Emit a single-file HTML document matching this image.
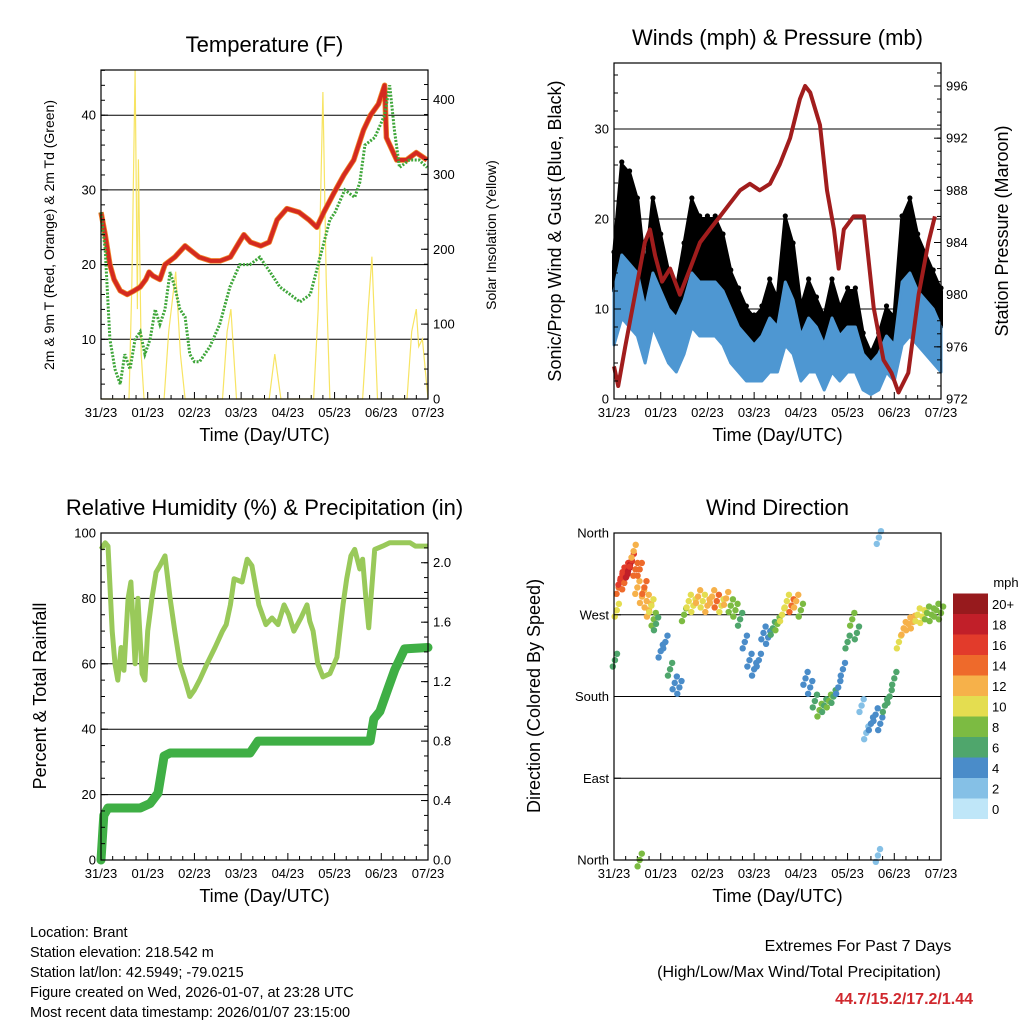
<!DOCTYPE html>
<html><head><meta charset="utf-8"><style>
body{margin:0;background:#fff;}
svg{display:block;font-family:"Liberation Sans",sans-serif;}
</style></head><body>
<svg id="s" width="1024" height="1024" viewBox="0 0 1024 1024"></svg>
<script>
// ---------- DATA ----------
const dayLabels=["31/23","01/23","02/23","03/23","04/23","05/23","06/23","07/23"];
// Temperature (F)
const tempT=[0,0.09,0.19,0.28,0.41,0.56,0.71,0.84,0.96,1.03,1.11,1.26,1.37,1.58,1.8,2.0,2.1,2.35,2.55,2.77,2.96,3.06,3.2,3.42,3.6,3.77,3.98,4.24,4.45,4.62,4.77,4.98,5.2,5.41,5.62,5.77,5.94,6.07,6.11,6.33,6.54,6.75,6.98];
const tempV=[27,24,20,18,16.5,16,16.5,17,18,19,18.5,18,20,21,22.5,21.5,21,20.5,20.5,21,23,24,23,22.5,23,26,27.5,27,26,25,27,29.5,32,34,38,40,41.5,44,37,34,34,35,34];
const tdT=[0,0.09,0.19,0.3,0.41,0.51,0.62,0.73,0.84,0.94,1.05,1.16,1.26,1.37,1.48,1.58,1.69,1.8,1.9,2.0,2.11,2.33,2.54,2.76,2.97,3.19,3.4,3.62,3.83,4.05,4.26,4.48,4.69,4.9,5.01,5.22,5.43,5.54,5.65,5.86,6.07,6.18,6.28,6.39,6.6,6.81,6.98];
const tdV=[27,22,10,6,4,8,6,10,11,8,10,14,12,14,19,17,14,13,8,7,7,9,12,17,20,20,21,19,17,16,15,16,21,26,27,30,29,31,36,37,40,44,38,33,34,34,33];
const solarT=[0,0.6,0.66,0.73,0.78,0.8,0.86,0.92,1.35,1.45,1.6,1.7,1.8,2.6,2.7,2.78,2.9,3.6,3.72,3.85,4.55,4.65,4.75,4.82,4.9,5.6,5.72,5.8,5.92,6.55,6.65,6.75,6.8,6.88,7.0];
const solarV=[0,0,150,440,120,320,60,0,0,90,170,60,0,0,90,120,0,0,60,0,0,120,410,160,0,0,120,190,0,0,90,120,70,80,0];
// Winds (mph) & pressure (mb)
const gust=[16,26,25,22,14,22,18,14,12,17,22,20,20,20,18,14,12,10,9,10,13,11,20,17,10,13,11,9,13,10,12,12,7,5,7,10,9,20,22,18,16,14,12];
const windHi=[12,16,15,14,10,14,12,10,9,11,14,13,13,13,12,10,8,7,6,7,9,8,13,11,7,9,8,6,9,7,8,8,5,4,5,7,6,13,14,12,11,10,8];
const windLo=[6,9,8,7,4,8,6,4,3,5,8,7,7,7,6,4,3,2,2,2,3,3,6,5,2,3,3,1,3,2,3,3,1,0.5,1,3,2,6,7,6,5,4,3];
const presT=[0,0.09,0.24,0.45,0.66,0.77,0.88,1.03,1.2,1.41,1.63,1.84,2.05,2.27,2.48,2.7,2.91,3.12,3.34,3.55,3.77,3.98,4.09,4.2,4.41,4.56,4.71,4.81,4.92,5.13,5.35,5.56,5.77,5.94,6.09,6.3,6.52,6.73,6.87];
const presV=[974.5,973,976,980,984,985,983,981,982,980,982,984,985,986,987,988,988.5,988,988.5,990,992,995,996,995.5,993,988,985,982,985,986,986,979,975,974,972.5,974,980,984,986];
// Relative humidity & precipitation
const rhT=[0,0.09,0.15,0.24,0.3,0.36,0.43,0.49,0.58,0.64,0.73,0.79,0.88,0.94,1.0,1.09,1.18,1.26,1.37,1.48,1.58,1.69,1.8,1.9,2.0,2.11,2.27,2.44,2.6,2.68,2.77,2.85,3.02,3.13,3.23,3.38,3.53,3.66,3.79,3.92,4.02,4.13,4.28,4.41,4.47,4.54,4.64,4.75,4.9,5.05,5.18,5.26,5.35,5.43,5.54,5.6,5.67,5.73,5.86,6.03,6.18,6.41,6.62,6.73,7.0];
const rhV=[95,97,96,70,60,55,65,58,80,85,60,80,57,55,70,80,88,90,93,80,70,60,55,50,52,55,60,65,70,72,78,86,85,92,90,78,72,74,72,78,75,70,74,78,73,70,60,56,57,62,78,86,93,95,89,92,80,71,95,96,97,97,97,96,96];
const prT=[0,0.06,0.15,0.84,1.05,1.22,1.35,1.48,3.19,3.36,5.76,5.84,5.97,6.14,6.29,6.5,7.0];
const prV=[0,0.3,0.35,0.35,0.38,0.45,0.7,0.72,0.72,0.8,0.8,0.95,1.0,1.15,1.28,1.42,1.43];
// Wind direction (deg) & speed (mph)
const dirT=[0.02,0.06,0.1,0.14,0.18,0.22,0.26,0.3,0.34,0.38,0.42,0.46,0.5,0.55,0.6,0.65,0.7,0.75,0.8,0.85,0.9,1.0,1.1,1.2,1.3,1.4,1.5,1.6,1.7,1.8,1.9,2.0,2.1,2.2,2.3,2.4,2.5,2.6,2.7,2.8,2.9,3.0,3.1,3.2,3.3,3.4,3.5,3.6,3.7,3.8,3.9,4.0,4.1,4.2,4.3,4.4,4.5,4.6,4.7,4.8,4.9,5.0,5.1,5.2,5.3,5.4,5.5,5.6,5.7,5.8,5.9,6.0,6.1,6.2,6.3,6.4,6.5,6.6,6.7,6.8,6.9,7.0,0.55,5.65,5.67];
const dirV=[220,275,300,310,315,305,320,318,322,330,340,320,300,320,290,300,285,275,280,265,260,230,240,210,195,190,270,285,280,290,285,280,290,285,280,288,280,275,265,240,220,210,220,250,245,255,260,270,285,280,285,275,200,190,175,165,170,175,180,190,210,240,265,250,170,140,150,160,150,170,180,200,240,255,260,262,270,268,272,270,275,272,0,5,355];
const dirS=[6,10,14,16,16,14,16,17,18,15,12,14,12,13,12,14,11,12,10,8,6,4,4,5,4,4,8,10,9,12,10,11,12,13,10,11,8,7,5,4,3,3,4,4,4,6,8,9,10,13,11,7,3,4,5,7,6,8,5,3,3,5,7,6,2,2,3,4,4,5,6,6,9,12,11,12,10,9,8,8,7,8,8,1,1];
const cbLabels=["0","2","4","6","8","10","12","14","16","18","20+"];
const cbColors=["#bfe6f8","#85c0e6","#4a8cc9","#4fa66c","#7cbb42","#e4dd50","#f6b14a","#ee6a2b","#e23b2b","#c11f29","#971a1d"];

// ---------- HELPERS ----------
const S=document.getElementById('s');const NS="http://www.w3.org/2000/svg";
function mk(tag,attrs,parent){const e=document.createElementNS(NS,tag);for(const k in attrs)e.setAttribute(k,attrs[k]);(parent||S).appendChild(e);return e;}
function txt(x,y,s,size,anchor,extra){const e=mk('text',Object.assign({x:x,y:y,'font-size':size,'text-anchor':anchor||'middle',fill:'#000'},extra||{}));e.textContent=s;return e;}
function lin(d0,d1,r0,r1){return v=>r0+(v-d0)/(d1-d0)*(r1-r0);}
function pathOf(xs,ys,fx,fy){return xs.map((t,i)=>(i?'L':'M')+fx(t).toFixed(1)+','+fy(ys[i]).toFixed(1)).join('');}

function frame(p){
  const g=mk('g',{});
  
  
  // x ticks
  for(let d=0;d<=7;d++){
    const x=p.fx(d);
    const tk=mk('line',{x1:x,x2:x,y1:p.y1,y2:p.y1-7,stroke:'#000','stroke-width':1},g);
    
    
    const l=txt(x,p.y1+18,dayLabels[d],13,'middle');g.appendChild(l);
    
    
    if(d<7)for(let q=1;q<4;q++){const xm=p.fx(d+q/4);mk('line',{x1:xm,x2:xm,y1:p.y1,y2:p.y1-4,stroke:'#000'},g);}
  }
  const xt=txt((p.x0+p.x1)/2,p.y1+42,'Time (Day/UTC)',18,'middle');g.appendChild(xt);
  
  
  const tt=txt((p.x0+p.x1)/2,p.y0-18,p.title,22,'middle');g.appendChild(tt);
  
  
  return g;
}
function yAxis(g,p,ticks,labels,fy,side,minor){
  const x=side==='l'?p.x0:p.x1,dir=side==='l'?1:-1;
  ticks.forEach((v,i)=>{const y=fy(v);
    mk('line',{x1:x,x2:x+dir*7,y1:y,y2:y,stroke:'#000'},g);
    const l=txt(x-dir*5,y+4.5,labels[i],13,side==='l'?'end':'start');g.appendChild(l);
    
    
  });
  (minor||[]).forEach(v=>{const y=fy(v);mk('line',{x1:x,x2:x+dir*4,y1:y,y2:y,stroke:'#000'},g);});
}
function grid(g,p,vals,fy){vals.forEach(v=>{const y=fy(v);mk('line',{x1:p.x0,x2:p.x1,y1:y,y2:y,stroke:'#000','stroke-width':1},g);});}
function border(g,p){const r=mk('rect',{x:p.x0,y:p.y0,width:p.x1-p.x0,height:p.y1-p.y0,fill:'none',stroke:'#000','stroke-width':1.2},g);}
function yTitle(x,y,s,size,name){const e=txt(0,0,s,size,'middle',{transform:`translate(${x},${y}) rotate(-90)`});}
function range(a,b,st){const r=[];for(let v=a;v<=b+1e-9;v+=st)r.push(+v.toFixed(4));return r;}

// ---------- PANEL 1: Temperature ----------
{
const p={x0:101,x1:428,y0:70,y1:399,title:'Temperature (F)',name:'temperature-panel'};
p.fx=lin(0,7,p.x0,p.x1);
const fy=lin(0,40,414,115.2), fs=lin(0,400,399,99.5);
const g=frame(p);
grid(g,p,[10,20,30,40],fy);
const sp=mk('path',{d:pathOf(solarT,solarV,p.fx,fs),fill:'none',stroke:'#f7e463','stroke-width':1.2},g);


const tp=mk('path',{d:pathOf(tempT,tempV,p.fx,fy),fill:'none',stroke:'#f08a2a','stroke-width':5.5,'stroke-linejoin':'round'},g);


const tp2=mk('path',{d:pathOf(tempT,tempV,p.fx,fy),fill:'none',stroke:'#d42a20','stroke-width':4,'stroke-linejoin':'round'},g);


const dp=mk('path',{d:pathOf(tdT,tdV,p.fx,fy),fill:'none',stroke:'#3fa63a','stroke-width':3,'stroke-dasharray':'2 1.5'},g);


border(g,p);
yAxis(g,p,[10,20,30,40],['10','20','30','40'],fy,'l',range(4,46,2));
yAxis(g,p,[0,100,200,300,400],['0','100','200','300','400'],fs,'r',range(20,420,20));
yTitle(54,235,'2m & 9m T (Red, Orange) & 2m Td (Green)',14,'y-axis-title');
yTitle(496,235,'Solar Insolation (Yellow)',14,'y2-axis-title');
}
// ---------- PANEL 2: Winds ----------
{
const p={x0:614,x1:941,y0:63,y1:399,title:'Winds (mph) & Pressure (mb)',name:'winds-panel'};
p.fx=lin(0,7,p.x0,p.x1);
const fy=lin(0,30,399,129), fp=lin(972,996,399,86);
const g=frame(p);
grid(g,p,[10,20,30],fy);
const ts=gust.map((_,i)=>i/6);
const band=pathOf(ts,gust,p.fx,fy)+pathOf(ts.slice().reverse(),windHi.slice().reverse(),p.fx,fy).replace('M','L')+'Z';
const bk=mk('path',{d:band,fill:'#000',stroke:'#000','stroke-width':4,'stroke-linejoin':'round'},g);


gust.forEach((v,i)=>{const c=mk('circle',{cx:p.fx(i/6),cy:fy(v)-3,r:2.6,fill:'#000'},g);
  
  });
const bb=pathOf(ts,windHi,p.fx,fy)+pathOf(ts.slice().reverse(),windLo.slice().reverse(),p.fx,fy).replace('M','L')+'Z';
const bl=mk('path',{d:bb,fill:'#4e97d2',stroke:'#4e97d2','stroke-width':3,'stroke-linejoin':'round'},g);


const pp=mk('path',{d:pathOf(presT,presV,p.fx,fp),fill:'none',stroke:'#a11d1d','stroke-width':4,'stroke-linejoin':'round'},g);


border(g,p);
yAxis(g,p,[0,10,20,30],['0','10','20','30'],fy,'l',range(2,36,2));
yAxis(g,p,[972,976,980,984,988,992,996],['972','976','980','984','988','992','996'],fp,'r',range(973,997,1));
yTitle(561,231,'Sonic/Prop Wind & Gust (Blue, Black)',18,'y-axis-title');
yTitle(1008,231,'Station Pressure (Maroon)',18,'y2-axis-title');
}
// ---------- PANEL 3: RH & Precip ----------
{
const p={x0:101,x1:428,y0:533,y1:860,title:'Relative Humidity (%) & Precipitation (in)',name:'humidity-precip-panel'};
p.fx=lin(0,7,p.x0,p.x1);
const fy=lin(0,100,860,533), fr=lin(0,2.2,860,533);
const g=frame(p);
grid(g,p,[20,40,60,80],fy);
const rp=mk('path',{d:pathOf(rhT,rhV,p.fx,fy),fill:'none',stroke:'#99c95a','stroke-width':5,'stroke-linejoin':'round'},g);


const pr=mk('path',{d:pathOf(prT,prV,p.fx,fr),fill:'none',stroke:'#3faf45','stroke-width':9,'stroke-linejoin':'round','stroke-linecap':'round'},g);


border(g,p);
yAxis(g,p,[0,20,40,60,80,100],['0','20','40','60','80','100'],fy,'l',range(5,95,5));
yAxis(g,p,[0,0.4,0.8,1.2,1.6,2.0],['0.0','0.4','0.8','1.2','1.6','2.0'],fr,'r',range(0.1,2.2,0.1));
yTitle(46,696,'Percent & Total Rainfall',18,'y-axis-title');
}
// ---------- PANEL 4: Wind direction ----------
{
const p={x0:614,x1:941,y0:533,y1:860,title:'Wind Direction',name:'wind-direction-panel'};
p.fx=lin(0,7,p.x0,p.x1);
const fy=lin(0,360,860,533);
const g=frame(p);
grid(g,p,[90,180,270],fy);
const col=s=>cbColors[Math.min(10,Math.max(0,Math.round(s/2)))];
dirT.forEach((t,i)=>{
  [-7,0,7].forEach(o=>{
    const c=mk('circle',{cx:p.fx(t)+o*0.3,cy:fy(dirV[i]+o),r:3.2,fill:col(dirS[i])},g);
    
    
  });
});
border(g,p);
yAxis(g,p,[0,90,180,270,360],['North','East','South','West','North'],fy,'l',[]);
yTitle(540,696,'Direction (Colored By Speed)',18,'y-axis-title');
// colorbar
const cb=mk('g',{});


const h=20.5;
cbColors.forEach((c,i)=>{const y=819-(i+1)*h;
  mk('rect',{x:953,y:y,width:35,height:h,fill:c},cb);
  const l=txt(992,y+h/2+5,cbLabels[i],13,'start');cb.appendChild(l);
  
  
});
const u=txt(1006,587,'mph',13,'middle');cb.appendChild(u);
}
// ---------- FOOTER ----------
const info=["Location: Brant","Station elevation: 218.542 m","Station lat/lon: 42.5949; -79.0215","Figure created on Wed, 2026-01-07, at 23:28 UTC","Most recent data timestamp: 2026/01/07 23:15:00"];
info.forEach((s,i)=>{const e=txt(30,937+i*20,s,14.5,'start');
  
  });
const e1=txt(858,951,'Extremes For Past 7 Days',16,'middle');


const e2=txt(799,977,'(High/Low/Max Wind/Total Precipitation)',16,'middle');


const e3=txt(973,1004,'44.7/15.2/17.2/1.44',16,'end',{fill:'#d0282e','font-weight':'bold'});


</script>
</body></html>
